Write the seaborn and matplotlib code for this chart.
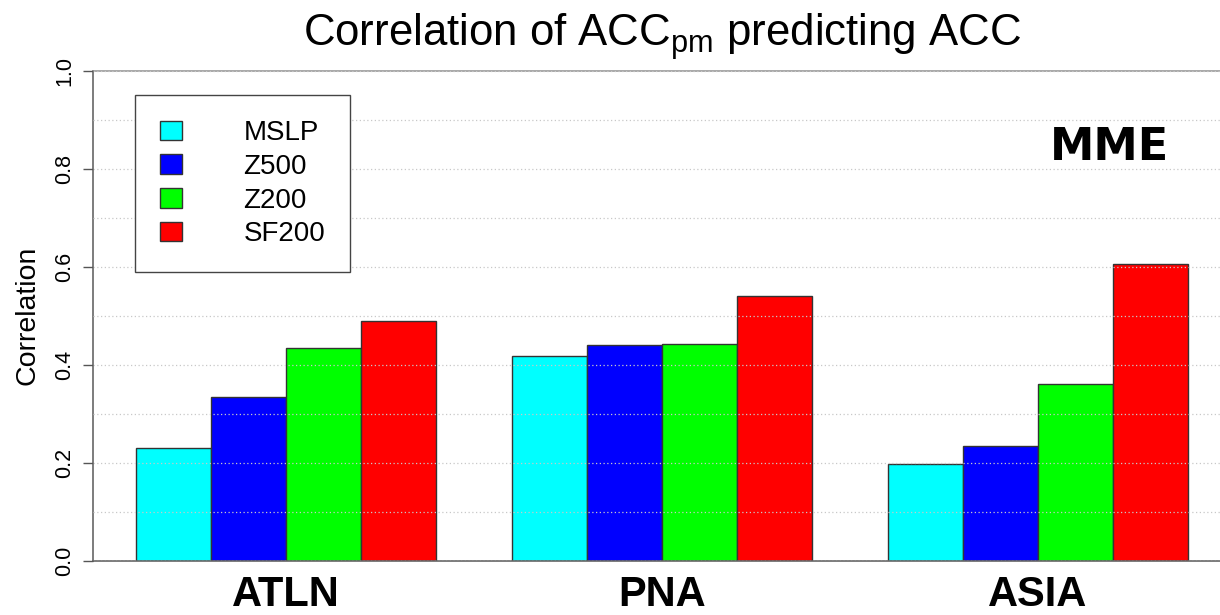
import matplotlib
matplotlib.use("Agg")
import matplotlib.pyplot as plt
import seaborn as sns
import pandas as pd
import numpy as np

regions = ["ATLN", "PNA", "ASIA"]
variables = ["MSLP", "Z500", "Z200", "SF200"]
mslp = [0.231, 0.418, 0.198]
z500 = [0.335, 0.441, 0.235]
z200 = [0.435, 0.443, 0.361]
sf200 = [0.490, 0.541, 0.606]
colors = ["#00FFFF", "#0000FF", "#00FF00", "#FF0000"]
yticks = [0.0, 0.2, 0.4, 0.6, 0.8, 1.0]
ytick_labels = ["0.0", "0.2", "0.4", "0.6", "0.8", "1.0"]

series = {"MSLP": mslp, "Z500": z500, "Z200": z200, "SF200": sf200}
rows = []
for var in variables:
    for reg, val in zip(regions, series[var]):
        rows.append({"region": reg, "variable": var, "value": val})
df = pd.DataFrame(rows)

sns.set_theme(style="white")
plt.rcParams["font.family"] = ["Liberation Sans", "DejaVu Sans"]
plt.rcParams["text.color"] = "black"
plt.rcParams["axes.labelcolor"] = "black"
plt.rcParams["xtick.color"] = "black"
plt.rcParams["ytick.color"] = "black"
plt.rcParams["mathtext.fontset"] = "custom"
plt.rcParams["mathtext.rm"] = "Liberation Sans"
plt.rcParams["mathtext.it"] = "Liberation Sans:italic"
plt.rcParams["mathtext.bf"] = "Liberation Sans:bold"

W, H = 1220, 615
fig = plt.figure(figsize=(W / 100, H / 100), dpi=100)
ax = fig.add_axes([93 / W, 1 - 561 / H, (W - 93) / W, (561 - 71) / H])

sns.barplot(data=df, x="region", y="value", hue="variable", order=regions,
            hue_order=variables, palette=colors, saturation=1, width=0.8,
            edgecolor="#333333", linewidth=1.0, ax=ax, legend=True)

ax.set_xlim((93 - 286) / 376, (W - 286) / 376)
ax.set_ylim(0, 1.0)

# grid
ax.set_yticks(yticks)
ax.set_yticklabels(ytick_labels, rotation=90, va="center", fontsize=15.5)
ax.set_yticks(np.arange(0.1, 1.0, 0.1), minor=True)
ax.grid(False)
ax.yaxis.grid(True, which="both", color="#c8c8c8", linestyle=(0, (1, 2)), linewidth=0.9, zorder=5)
ax.set_axisbelow(False)
ax.tick_params(axis="y", which="major", length=7, width=1, color="#555555", labelcolor="black", pad=6, left=True)
ax.tick_params(axis="y", which="minor", length=0)
ax.tick_params(axis="x", length=0, pad=10, labelcolor="black")
for lab in ax.get_xticklabels():
    lab.set_fontweight("bold")
    lab.set_fontsize(30)
    lab.set_color("black")
ax.set_xlabel("")
ax.set_ylabel("")

for side in ["left", "bottom", "top"]:
    ax.spines[side].set_visible(True)
    ax.spines[side].set_color("#666666")
    ax.spines[side].set_linewidth(1.2)
ax.spines["top"].set_color("#999999")
ax.spines["right"].set_visible(False)

# legend
handles, labels = ax.get_legend_handles_labels()
leg = ax.legend(handles, labels, loc="upper left",
          bbox_to_anchor=(135 / W, 1 - 95 / H), bbox_transform=fig.transFigure,
          fontsize=20, frameon=True, fancybox=False, edgecolor="#444444",
          framealpha=1, borderpad=0.9, labelspacing=0.28, handlelength=0.8,
          handleheight=0.7, handletextpad=2.2, borderaxespad=0)
leg.get_frame().set_linewidth(1.0)
for t in leg.get_texts():
    t.set_color("black")

fig.text(662 / W, 1 - 46 / H, r"Correlation of ACC$_{\mathrm{pm}}$ predicting ACC",
         ha="center", va="baseline", fontsize=31.5, color="black")
fig.text(27 / W, 1 - 315 / H, "Correlation", rotation=90, ha="center", va="center",
         fontsize=20.5, color="black")
fig.text(1110 / W, 1 - 147 / H, "MME", ha="center", va="center", fontsize=32,
         fontweight="bold", family="DejaVu Sans", color="black")

fig.savefig("out.png", dpi=100)
